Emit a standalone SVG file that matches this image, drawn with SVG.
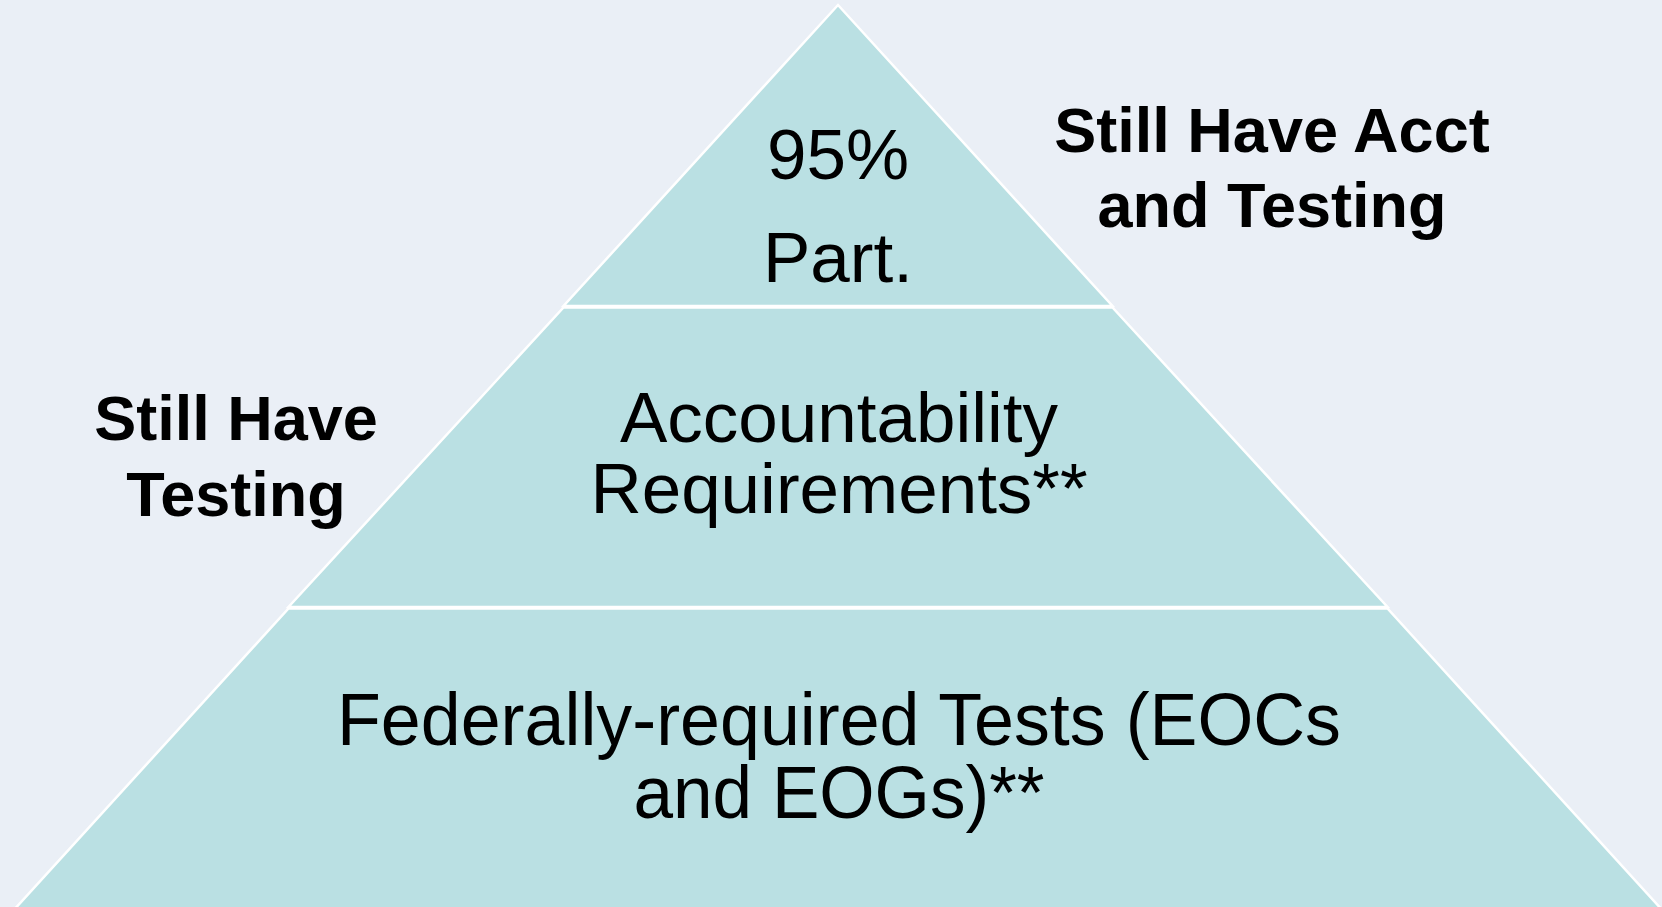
<svg xmlns="http://www.w3.org/2000/svg" width="1662" height="907" viewBox="0 0 1662 907">
<style>
.layer{fill:#BAE0E3;stroke:#FFFFFF;stroke-width:2.5;stroke-linejoin:miter}
.t{font-family:"Liberation Sans",Arial,sans-serif;fill:#000;text-anchor:middle}
.in{font-size:71px}
.side{font-size:63px;font-weight:bold}
</style>
<rect x="0" y="0" width="1662" height="907" fill="#EAEFF6"/>
<g id="layer-top">
<polygon class="layer" points="838,5 1112.5,306 563.5,306"/>
<text class="t in" x="838" y="179">95%</text>
<text class="t in" x="838" y="282">Part.</text>
</g>
<g id="layer-middle">
<polygon class="layer" points="563.5,307.5 1112.5,307.5 1387.5,607 288.5,607"/>
<text class="t in" x="839" y="442">Accountability</text>
<text class="t in" x="839" y="513">Requirements**</text>
</g>
<g id="layer-bottom">
<polygon class="layer" points="288.5,608.5 1387.5,608.5 1664,912 12,912"/>
<text class="t in" x="839" y="745" textLength="1004" lengthAdjust="spacingAndGlyphs" style="font-size:74px">Federally-required Tests (EOCs</text>
<text class="t in" x="839" y="818" textLength="411" lengthAdjust="spacingAndGlyphs" style="font-size:74px">and EOGs)**</text>
</g>
<g id="label-right">
<text class="t side" x="1272" y="152">Still Have Acct</text>
<text class="t side" x="1272" y="227">and Testing</text>
</g>
<g id="label-left">
<text class="t side" x="236" y="440">Still Have</text>
<text class="t side" x="236" y="516">Testing</text>
</g>
<g id="connectors"></g>
</svg>
